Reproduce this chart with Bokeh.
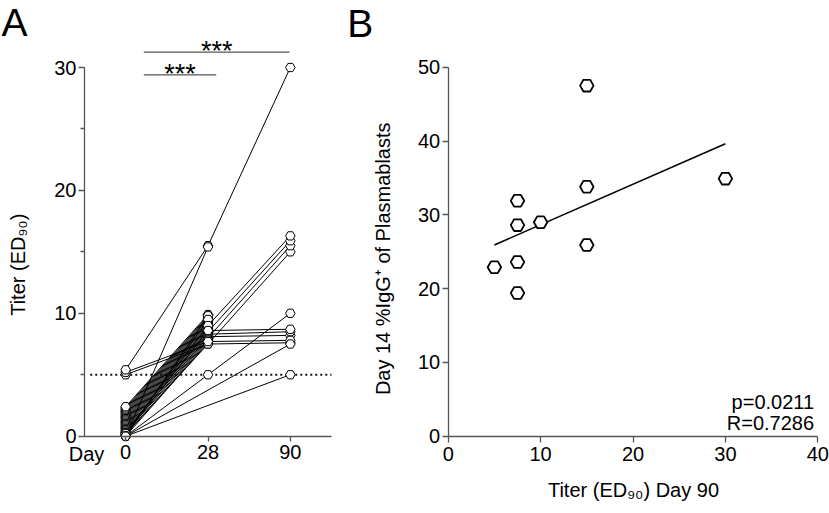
import numpy as np
from bokeh.plotting import figure
from bokeh.models import Label, FixedTicker, Range1d
from bokeh.layouts import row
from bokeh.embed import file_html
from bokeh.resources import INLINE

FONT = "Liberation Sans"
AX = "#555555"

# ---------------- Panel A data ----------------
days = ["0", "28", "90"]
# one entry per subject; None = no value plotted at that day
day0 = [0.0, 0.1, 0.2, 0.3, 0.4, 0.5, 0.6, 0.7, 0.8, 0.9, 1.0, 1.1, 1.2, 1.3,
        1.4, 1.5, 1.6, 1.7, 1.8, 1.9, 2.0, 2.1, 2.2, 2.3, 2.4,
        0.0, 0.1, 0.3, 0.2,
        5.0, 5.2, 5.4, 0.0, 0.0, 0.0, 0.0]
day28 = [7.6, 7.7, 7.5, 7.8, 7.9, 8.1, 8.0, 8.2, 8.3, 8.4, 8.5, 8.6, 8.7, 8.8,
         8.9, 9.0, 9.1, 9.2, 9.3, 9.4, 9.5, 9.6, 9.7, 9.8, 9.9,
         9.8, 9.5, 9.0, 8.6,
         7.5, 7.7, 15.5, 15.4, 5.0, None, None]
day90 = [None, None, 15.0, None, None, 8.2, 15.5, None, 8.5, None, 15.9, 8.7, None, None,
         None, 16.3, None, None, None, None, None, None, None, None, None,
         None, None, None, None,
         7.6, 7.8, 30.0, None, 10.0, 7.5, 5.0]
LOD = 5.0
sig_labels = ["***", "***"]

# ---------------- Panel B data ----------------
titer90 = [5, 7.5, 7.5, 7.5, 7.5, 10, 15, 15, 15, 30]
igg14 = [22.9, 31.9, 28.6, 23.6, 19.4, 29.0, 47.5, 33.8, 25.9, 34.9]
stats_text = ["p=0.0211", "R=0.7286"]


def style_axis(ax, standoff, minor=True):
    ax.axis_line_color = AX
    ax.axis_line_width = 1.3
    ax.major_tick_line_color = AX
    ax.major_tick_line_width = 1.3
    ax.major_tick_in = 0
    ax.major_tick_out = 6
    if minor:
        ax.minor_tick_line_color = AX
        ax.minor_tick_line_width = 1.3
        ax.minor_tick_in = 0
        ax.minor_tick_out = 4
    else:
        ax.minor_tick_line_color = None
    ax.major_label_text_font = FONT
    ax.major_label_text_font_size = "20px"
    ax.major_label_text_color = "black"
    ax.major_label_standoff = standoff


def lab(p, x, y, text, size="20px", align="left", angle=0.0):
    p.add_layout(Label(x=x, y=y, text=text, text_font=FONT, text_font_size=size,
                       text_color="black", text_align=align, text_baseline="alphabetic",
                       angle=angle))


# ================= Panel A =================
# frame fills the whole figure; axes sit at fixed data locations
pA = figure(width=340, height=513, x_range=Range1d(-1.5203, 2.6093), y_range=Range1d(-6.29, 35.452),
            toolbar_location=None, output_backend="svg", min_border=0)
pA.grid.visible = False
pA.outline_line_color = None

xs, ys, mx, my = [], [], [], []
for vals in zip(day0, day28, day90):
    px = [i for i, v in enumerate(vals) if v is not None]
    py = [v for v in vals if v is not None]
    xs.append(px)
    ys.append(py)
    mx += px
    my += py

pA.segment(x0=[-0.43], y0=[LOD], x1=[2.5], y1=[LOD], line_color="#111111",
           line_width=1.8, line_dash="2 3")
pA.multi_line(xs, ys, line_color="black", line_width=1)
pA.scatter(mx, my, marker="hex", size=9.5, fill_color="white", line_color="black", line_width=1)

xa = pA.xaxis[0]
xa.ticker = FixedTicker(ticks=list(range(len(days))))
xa.major_label_overrides = {i: d for i, d in enumerate(days)}
xa.fixed_location = 0
xa.bounds = (-0.5, 2.5)
style_axis(xa, 4, minor=False)
xa.major_tick_out = 5

ya = pA.yaxis[0]
ya.ticker = FixedTicker(ticks=[0, 10, 20, 30], minor_ticks=[5, 15, 25])
ya.bounds = (0, 30)
ya.fixed_location = -0.5
style_axis(ya, 2)

# significance bars (0 vs 28, 0 vs 90)
bar_x0 = [0.22, 0.22]
bar_x1 = [1.10, 1.99]
bar_y = [29.4, 31.25]
pA.segment(x0=bar_x0, y0=bar_y, x1=bar_x1, y1=bar_y, line_color=AX, line_width=1.3)
for x0, x1, y, t in zip(bar_x0, bar_x1, bar_y, sig_labels):
    lab(pA, (x0 + x1) / 2, y + 0.1, t, size="27px", align="center")

lab(pA, -0.692, -1.48, "Day")
lab(pA, -1.312, 13.95, "Titer (ED\u2089\u2080)", align="center", angle=np.pi / 2)
lab(pA, -1.509, 33.66, "A", size="39px")

# ================= Panel B =================
pB = figure(width=489, height=513, x_range=Range1d(-11.656, 41.266), y_range=Range1d(-10.474, 59.038),
            toolbar_location=None, output_backend="svg", min_border=0)
pB.grid.visible = False
pB.outline_line_color = None

slope, intercept = np.polyfit(titer90, igg14, 1)
fx = [min(titer90), max(titer90)]
fy = [slope * v + intercept for v in fx]
pB.line(fx, fy, line_color="black", line_width=1.6)
pB.scatter(titer90, igg14, marker="hex", size=13.5, fill_color="white",
           line_color="black", line_width=1.8)

xb = pB.xaxis[0]
xb.ticker = FixedTicker(ticks=[0, 10, 20, 30, 40])
xb.fixed_location = 0
xb.bounds = (0, 40)
style_axis(xb, 5, minor=False)
yb = pB.yaxis[0]
yb.ticker = FixedTicker(ticks=[0, 10, 20, 30, 40, 50])
yb.bounds = (0, 50)
yb.fixed_location = 0
style_axis(yb, 2, minor=False)

lab(pB, 39.6, 4.66, stats_text[0], align="right")
lab(pB, 39.6, 1.76, stats_text[1], align="right")
lab(pB, 20.05, -7.29, "Titer (ED\u2089\u2080) Day 90", align="center")
lab(pB, -7.06, 24.04, "Day 14 %IgG\u207a of Plasmablasts", align="center", angle=np.pi / 2)
lab(pB, -10.93, 55.88, "B", size="39px")

layout = row(pA, pB)
open("out.html", "w").write(file_html(layout, INLINE))
